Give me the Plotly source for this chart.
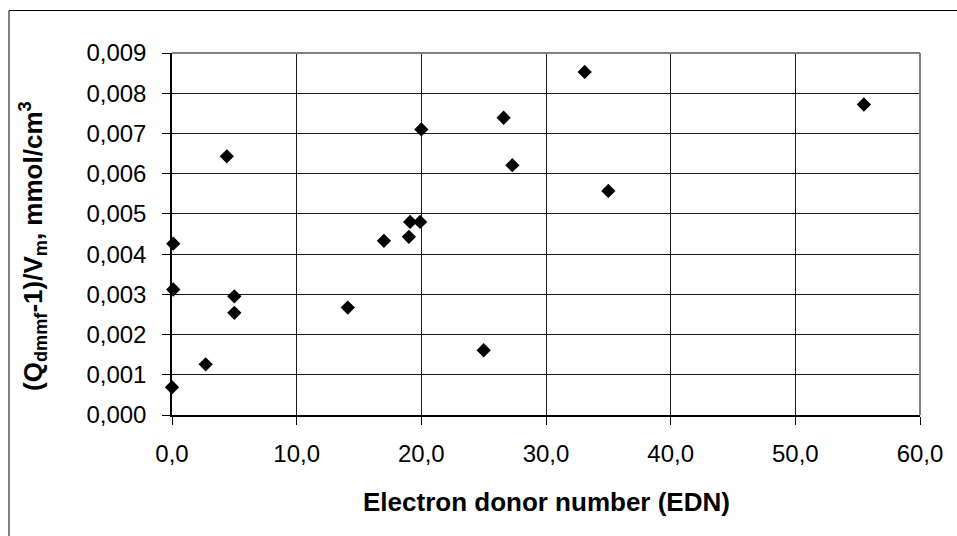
import plotly.graph_objects as go

# Data
edn = [0.0, 0.1, 0.1, 2.7, 4.4, 5.0, 5.0, 14.1, 17.0, 19.0, 19.1, 19.9, 20.0,
       25.0, 26.6, 27.3, 33.1, 35.0, 55.5]
q_vm = [0.00069, 0.00312, 0.00426, 0.00126, 0.00643, 0.00295, 0.00254, 0.00267,
        0.00433, 0.00443, 0.00480, 0.00480, 0.00710, 0.00161, 0.00739, 0.00621,
        0.00853, 0.00557, 0.00772]

x_title = "Electron donor number (EDN)"
y_title = "(Q<sub>dmmf</sub>-1)/V<sub>m</sub>, mmol/cm<sup>3</sup>"

FONT = "Liberation Sans, Arial, sans-serif"
W, H = 957, 536
L, R, T, B = 172, 37, 53, 121
pw, ph = W - L - R, H - T - B

def px(x):
    return (x - L) / pw

def py(y):
    return (H - B - y) / ph

fig = go.Figure()
fig.add_trace(go.Scatter(
    x=edn, y=q_vm, mode="markers",
    marker=dict(symbol="diamond", size=11, color="black", line=dict(width=0)),
    cliponaxis=False, showlegend=False,
))

axis_common = dict(
    showgrid=True, gridcolor="#1a1a1a", gridwidth=1,
    showline=True, linecolor="black", linewidth=1.5,
    ticks="outside", ticklen=8, tickcolor="black", tickwidth=1,
    zeroline=False,
    tickfont=dict(family=FONT, size=24, color="black"),
)

fig.update_xaxes(range=[0, 60], dtick=10, tick0=0, tickformat=".1f",
                 ticklabelstandoff=8, **axis_common)
fig.update_yaxes(range=[0, 0.009], dtick=0.001, tick0=0, tickformat=".3f",
                 ticklabelstandoff=11, **axis_common)

fig.update_layout(
    width=W, height=H,
    margin=dict(l=L, r=R, t=T, b=B, pad=0),
    paper_bgcolor="white", plot_bgcolor="white",
    separators=", ",
    font=dict(family=FONT, color="black"),
    annotations=[
        dict(text="<b>" + x_title + "</b>", xref="paper", yref="paper",
             x=px(546), y=py(502), xanchor="center", yanchor="middle",
             showarrow=False, font=dict(family=FONT, size=26, color="black")),
        dict(text="<b>" + y_title + "</b>", xref="paper", yref="paper",
             x=px(33), y=py(246), xanchor="center", yanchor="middle",
             textangle=-90, showarrow=False,
             font=dict(family=FONT, size=26, color="black")),
    ],
    shapes=[
        # plot area border (top and right, gray)
        dict(type="line", xref="paper", yref="paper", x0=0, x1=1, y0=1, y1=1,
             line=dict(color="#808080", width=2), layer="above"),
        dict(type="line", xref="paper", yref="paper", x0=1, x1=1, y0=0, y1=1,
             line=dict(color="#808080", width=2), layer="above"),
        # outer chart border
        dict(type="rect", xref="paper", yref="paper",
             x0=px(9), x1=px(W + 10), y0=py(H + 10), y1=py(10.5),
             line=dict(color="black", width=1), layer="above"),
    ],
)

fig.write_html("out.html")
